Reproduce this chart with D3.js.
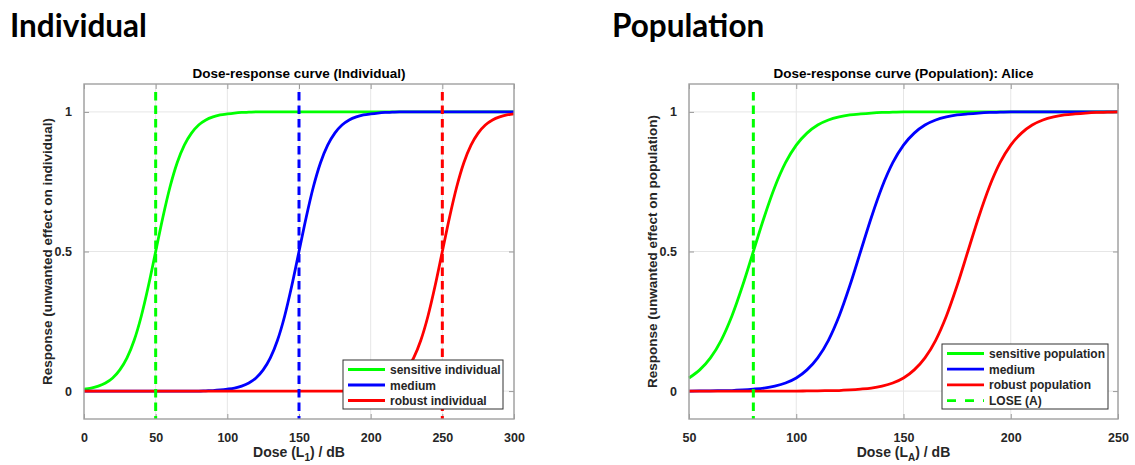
<!DOCTYPE html>
<html>
<head>
<meta charset="utf-8">
<script src="https://cdn.jsdelivr.net/npm/d3@7"></script>
<style>
  body { margin: 0; background: #fff; }
  svg { display: block; }
  text { font-family: "Liberation Sans", Arial, sans-serif; }
</style>
</head>
<body>
<svg id="chart" width="1135" height="465"></svg>
<script>
// ---------- DATA ----------
// Individual panel: dose grid 0..300 step 5
const indDose = d3.range(0, 301, 5);
const indSensitive = [0.007,0.011,0.018,0.029,0.047,0.076,0.119,0.182,0.269,0.378,0.5,0.622,0.731,0.818,0.881,0.924,0.953,0.971,0.982,0.989,0.993,0.996,0.998,0.999,
  1,1,1,1,1,1,1,1,1,1,1,1,1,1,1,1,1,1,1,1,1,1,1,1,1,1,1,1,1,1,1,1,1,1,1,1,1];
const indMedium = [0,0,0,0,0,0,0,0,0,0,0,0,0,0,0,0,0,0.001,0.002,0.004,
  0.007,0.011,0.018,0.029,0.047,0.076,0.119,0.182,0.269,0.378,0.5,0.622,0.731,0.818,0.881,0.924,0.953,0.971,0.982,0.989,0.993,0.996,0.998,0.999,
  1,1,1,1,1,1,1,1,1,1,1,1,1,1,1,1,1];
const indRobust = [0,0,0,0,0,0,0,0,0,0,0,0,0,0,0,0,0,0,0,0,0,0,0,0,0,0,0,0,0,0,0,0,0,0,0,0,0,0.001,0.002,0.004,
  0.007,0.011,0.018,0.029,0.047,0.076,0.119,0.182,0.269,0.378,0.5,0.622,0.731,0.818,0.881,0.924,0.953,0.971,0.982,0.989,0.993];
const indThresholds = [50, 150, 250];
const indXTicks = [0, 50, 100, 150, 200, 250, 300];
const indLegend = ["sensitive individual", "medium", "robust individual"];

// Population panel: dose grid 50..250 step 5
const popDose = d3.range(50, 251, 5);
const popSensitive = [0.047,0.076,0.119,0.182,0.269,0.378,0.5,0.622,0.731,0.818,0.881,0.924,0.953,0.971,0.982,0.989,0.993,0.996,0.998,0.999,
  1,1,1,1,1,1,1,1,1,1,1,1,1,1,1,1,1,1,1,1,1];
const popMedium = [0,0.0006,0.001,0.0015,0.002,0.004,0.007,0.011,0.018,0.029,0.047,0.076,0.119,0.182,0.269,0.378,0.5,0.622,0.731,0.818,0.881,0.924,0.953,0.971,0.982,0.989,0.993,0.996,0.998,0.999,
  1,1,1,1,1,1,1,1,1,1,1];
const popRobust = [0,0,0,0,0,0,0,0,0,0,0,0.0006,0.001,0.0015,0.002,0.004,0.007,0.011,0.018,0.029,0.047,0.076,0.119,0.182,0.269,0.378,0.5,0.622,0.731,0.818,0.881,0.924,0.953,0.971,0.982,0.989,0.993,0.996,0.998,0.999,1];
const popLose = 80;
const popXTicks = [50, 100, 150, 200, 250];
const popLegend = ["sensitive population", "medium", "robust population", "LOSE (A)"];

const yTicks = [0, 0.5, 1];
const yTickLabels = ["0", "0.5", "1"];
const seriesColors = ["#00ff00", "#0000ff", "#ff0000"];

// ---------- DRAWING ----------
const svg = d3.select("#chart");

function panel(cfg) {
  const g = svg.append("g");
  const x = d3.scaleLinear().domain(cfg.xDomain).range([cfg.left, cfg.right]);
  const y = d3.scaleLinear().domain([-0.1, 1.1]).range([cfg.bottom, cfg.top]);

  // big heading
  svg.append("text").attr("x", cfg.headX).attr("y", 37)
    .style("font-family", "Lato, 'Open Sans', sans-serif").style("font-weight", 700)
    .style("font-size", "31.5px").attr("fill", "#000").text(cfg.heading);

  // grid
  g.append("g").selectAll("line").data(cfg.xTicks).join("line")
    .attr("x1", d => x(d)).attr("x2", d => x(d)).attr("y1", cfg.top).attr("y2", cfg.bottom)
    .attr("stroke", "#e6e6e6").attr("stroke-width", 1);
  g.append("g").selectAll("line").data(yTicks).join("line")
    .attr("y1", d => y(d)).attr("y2", d => y(d)).attr("x1", cfg.left).attr("x2", cfg.right)
    .attr("stroke", "#e6e6e6").attr("stroke-width", 1);

  // axes (ticks inside, all four sides)
  const tickStyle = sel => {
    sel.select(".domain").remove();
    sel.selectAll(".tick line").attr("stroke", "#9a9a9a");
    sel.selectAll(".tick text").attr("fill", "#262626")
      .style("font-size", "12.5px").style("font-weight", 700);
  };
  g.append("g").attr("transform", `translate(0,${cfg.bottom})`)
    .call(d3.axisBottom(x).tickValues(cfg.xTicks).tickSize(-5).tickPadding(14))
    .call(tickStyle);
  g.append("g").attr("transform", `translate(0,${cfg.top})`)
    .call(d3.axisTop(x).tickValues(cfg.xTicks).tickSize(-5).tickFormat(""))
    .call(tickStyle);
  g.append("g").attr("transform", `translate(${cfg.left},0)`)
    .call(d3.axisLeft(y).tickValues(yTicks).tickSize(-5).tickPadding(12)
      .tickFormat((d, i) => yTickLabels[i]))
    .call(tickStyle);
  g.append("g").attr("transform", `translate(${cfg.right},0)`)
    .call(d3.axisRight(y).tickValues(yTicks).tickSize(-5).tickFormat(""))
    .call(tickStyle);

  // curves
  const line = d3.line().x((d, i) => x(cfg.dose[i])).y(d => y(d)).curve(d3.curveMonotoneX);
  cfg.series.forEach((s, i) => {
    g.append("path").datum(s).attr("d", line).attr("fill", "none")
      .attr("stroke", seriesColors[i]).attr("stroke-width", 2.8);
  });

  // dashed thresholds
  cfg.dashes.forEach(dd => {
    g.append("line").attr("x1", x(dd.v)).attr("x2", x(dd.v))
      .attr("y1", cfg.top + 8).attr("y2", cfg.bottom)
      .attr("stroke", dd.c).attr("stroke-width", 3).attr("stroke-dasharray", "8.5,5");
  });

  // box
  g.append("rect").attr("x", cfg.left).attr("y", cfg.top)
    .attr("width", cfg.right - cfg.left).attr("height", cfg.bottom - cfg.top)
    .attr("fill", "none").attr("stroke", "#a0a0a0").attr("stroke-width", 1.4);

  // title
  g.append("text").attr("x", (cfg.left + cfg.right) / 2).attr("y", 78)
    .attr("text-anchor", "middle").attr("fill", "#000")
    .style("font-size", "13.5px").style("font-weight", 700).text(cfg.title);

  // x label with subscript
  const xl = g.append("text").attr("x", (cfg.left + cfg.right) / 2).attr("y", 457)
    .attr("text-anchor", "middle").attr("fill", "#262626")
    .style("font-size", "14px").style("font-weight", 700);
  xl.append("tspan").text("Dose (L");
  xl.append("tspan").attr("dy", 4).style("font-size", "10px").text(cfg.sub);
  xl.append("tspan").attr("dy", -4).text(") / dB");

  // y label
  g.append("text").attr("transform", `translate(${cfg.yLabelX},${(cfg.top + cfg.bottom) / 2}) rotate(-90)`)
    .attr("text-anchor", "middle").attr("fill", "#262626")
    .style("font-size", "13.5px").style("font-weight", 700).text(cfg.yLabel);

  // legend
  const L = cfg.legend;
  const lg = g.append("g");
  lg.append("rect").attr("x", L.x).attr("y", L.y).attr("width", L.w).attr("height", L.h)
    .attr("fill", "#fff").attr("stroke", "#333").attr("stroke-width", 1);
  L.items.forEach((name, i) => {
    const yy = L.y + L.first + i * L.step;
    const isDash = i >= 3;
    lg.append("line").attr("x1", L.x + 5).attr("x2", L.x + 42).attr("y1", yy).attr("y2", yy)
      .attr("stroke", isDash ? seriesColors[0] : seriesColors[i]).attr("stroke-width", 2.8)
      .attr("stroke-dasharray", isDash ? "9,9" : null);
    lg.append("text").attr("x", L.x + 47).attr("y", yy + 4.5).attr("fill", "#262626")
      .style("font-size", "12px").style("font-weight", 700).text(name);
  });
}

panel({
  heading: "Individual", headX: 10,
  left: 84, right: 514, top: 84, bottom: 419,
  xDomain: [0, 300], xTicks: indXTicks, dose: indDose,
  series: [indSensitive, indMedium, indRobust],
  dashes: indThresholds.map((v, i) => ({ v, c: seriesColors[i] })),
  title: "Dose-response curve (Individual)", sub: "1",
  yLabel: "Response (unwanted effect on individual)", yLabelX: 52,
  legend: { x: 343, y: 360, w: 160, h: 49, first: 9.5, step: 15.5, items: indLegend }
});

panel({
  heading: "Population", headX: 612,
  left: 689, right: 1118, top: 84, bottom: 419,
  xDomain: [50, 250], xTicks: popXTicks, dose: popDose,
  series: [popSensitive, popMedium, popRobust],
  dashes: [{ v: popLose, c: seriesColors[0] }],
  title: "Dose-response curve (Population): Alice", sub: "A",
  yLabel: "Response (unwanted effect on population)", yLabelX: 657,
  legend: { x: 942, y: 344, w: 166, h: 65, first: 9.5, step: 15.7, items: popLegend }
});
</script>
</body>
</html>
